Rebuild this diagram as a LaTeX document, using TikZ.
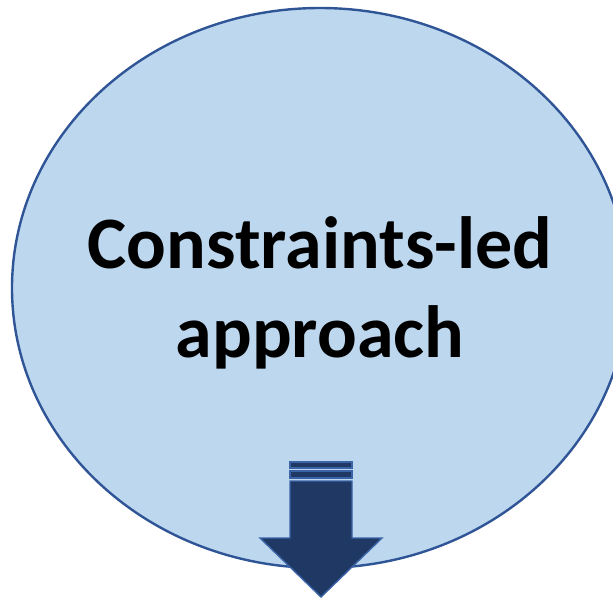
\documentclass[tikz,border=0pt]{standalone}
\usepackage{fontspec}
\setmainfont{Carlito}
\definecolor{discfill}{HTML}{BDD7EE}
\definecolor{discline}{HTML}{2F5597}
\definecolor{arrowfill}{HTML}{203864}
\definecolor{arrowline}{HTML}{3B64A8}
\begin{document}
\begin{tikzpicture}[x=1pt,y=-1pt,
  disc/.style={fill=discfill,draw=discline,line width=2.4pt},
  title/.style={font=\fontsize{74}{89}\bfseries\selectfont,anchor=base,inner sep=0pt},
  arrowpart/.style={fill=arrowfill,draw=arrowline,line width=1.4pt,line join=miter}]
  \useasboundingbox (0,0) rectangle (613,598);
  % main disc, partly cut off on the right
  \begin{scope}
    \clip (0,0) rectangle (613,598);
    \draw[disc] (320,288) ellipse [x radius=308, y radius=280];
  \end{scope}
  % label
  \node[title] (line1) at (320,268) {Constraints-led};
  \node[title] (line2) at (320,357) {approach};
  % striped down arrow
  \draw[arrowpart] (290,462) rectangle (352,468);
  \draw[arrowpart] (290,471) rectangle (352,478);
  \draw[arrowpart] (290,481) -- (352,481) -- (352,538) -- (382,538)
    -- (321,597) -- (260,538) -- (290,538) -- cycle;
\end{tikzpicture}
\end{document}
